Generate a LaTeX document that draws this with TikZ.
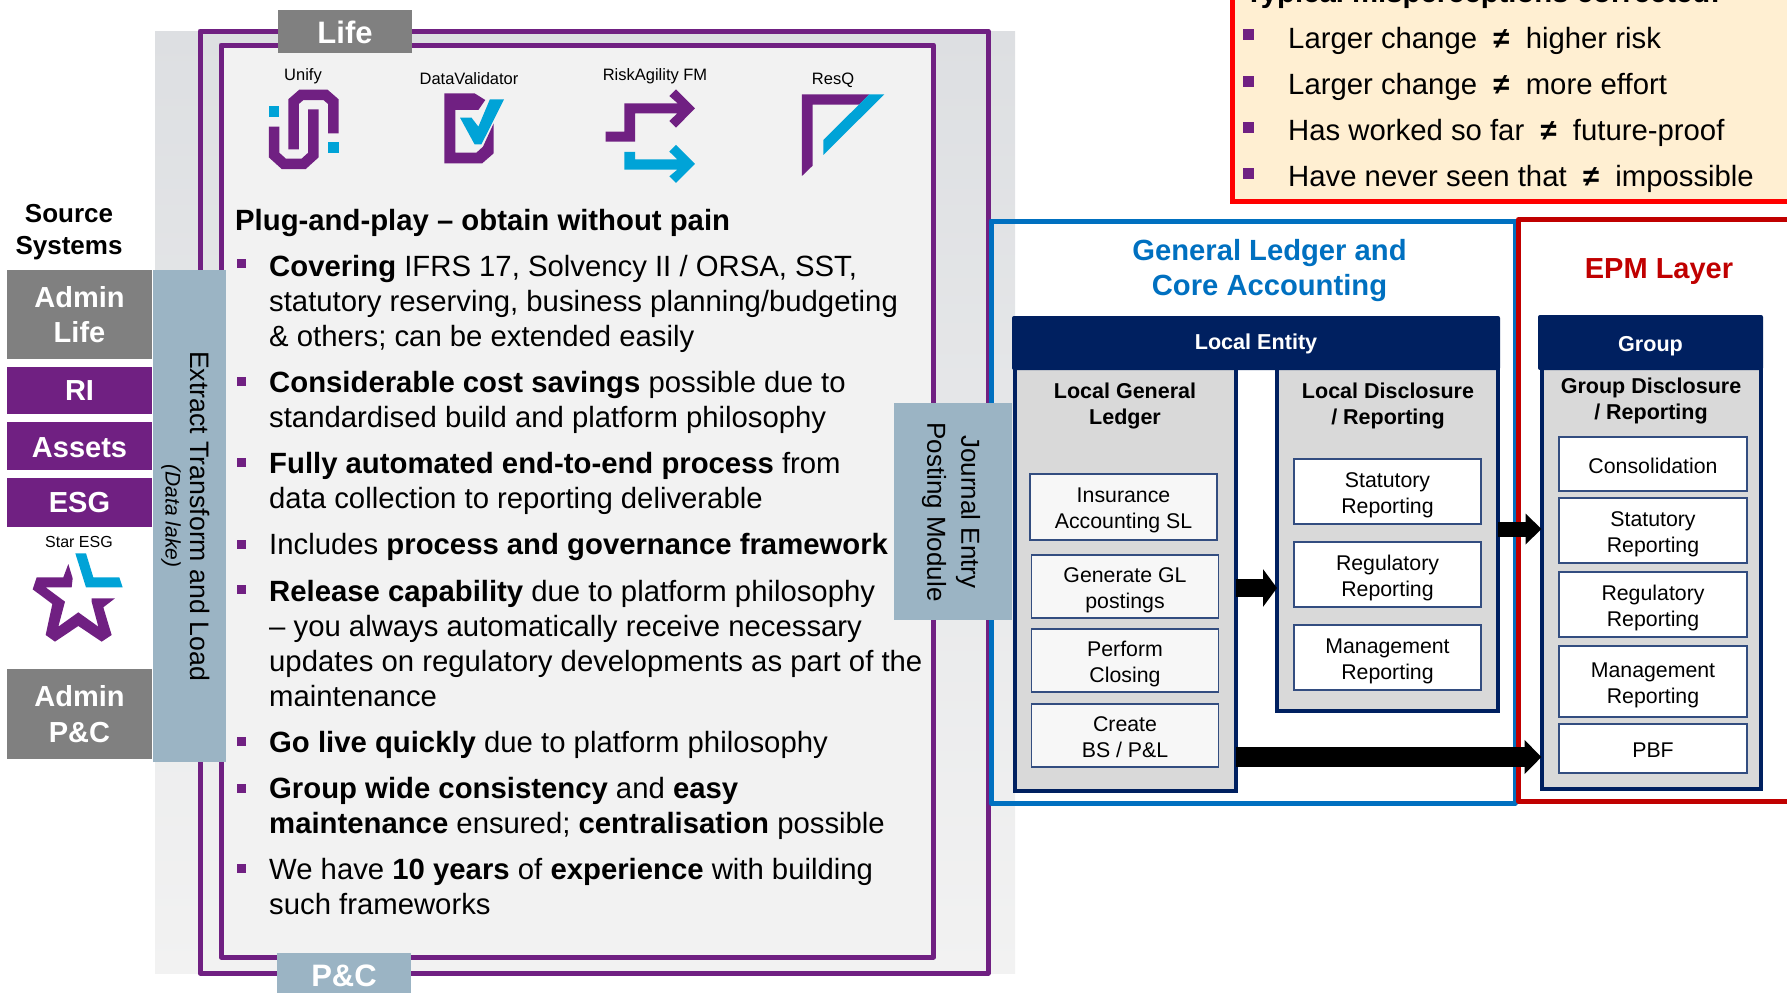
\documentclass[tikz,border=0pt]{standalone}
\usepackage{fontspec}
\setmainfont{Liberation Sans}
\usetikzlibrary{arrows.meta}
\definecolor{purpleLine}{HTML}{702082}
\definecolor{logoBlue}{HTML}{00A3D7}
\definecolor{steelBar}{HTML}{9BB4C4}
\definecolor{navyHead}{HTML}{002060}
\definecolor{ledgerBlue}{HTML}{0070C0}
\definecolor{epmRed}{HTML}{C00000}
\definecolor{noteFill}{HTML}{FFEFD2}
\newcommand{\topGap}[1]{\rule{0pt}{#1pt}}
\tikzstyle{sourceBox}=[shape = rectangle, inner sep = 0pt, outer sep = 0pt, minimum width = 145pt, align = center, text = white, font = \fontsize{29}{35.5}\selectfont\bfseries]
\tikzstyle{tabBox}=[shape = rectangle, inner sep = 0pt, outer sep = 0pt, minimum width = 134pt, text = white, font = \fontsize{31}{35}\selectfont\bfseries]
\tikzstyle{logoLabel}=[inner sep = 0pt, font = \fontsize{16.5}{20}\selectfont]
\tikzstyle{bodyText}=[anchor = west, inner sep = 0pt, align = left, font = \fontsize{29.3}{35}\selectfont]
\tikzstyle{bulletMark}=[shape = rectangle, fill = purpleLine, inner sep = 0pt, outer sep = 0pt, minimum size = 9pt]
\tikzstyle{noteMark}=[shape = rectangle, fill = purpleLine, inner sep = 0pt, outer sep = 0pt, minimum size = 11pt]
\tikzstyle{panelBox}=[shape = rectangle, draw = navyHead, fill = black!15, line width = 4pt, inner sep = 0pt, outer sep = 0pt]
\tikzstyle{headBox}=[shape = rectangle, fill = navyHead, rounded corners = 2pt, inner sep = 0pt, outer sep = 0pt, text = white, font = \fontsize{21.6}{26}\selectfont\bfseries]
\tikzstyle{panelTitle}=[inner sep = 0pt, align = center, font = \fontsize{21.5}{26}\selectfont\bfseries]
\tikzstyle{stepBox}=[shape = rectangle, draw = navyHead!80, fill = white, line width = 1.2pt, inner sep = 0pt, outer sep = 0pt, align = center, font = \fontsize{21.3}{26}\selectfont]
\tikzstyle{flowArrow}=[draw = black]
\begin{document}
\begin{tikzpicture}[x = 1pt, y = -1pt]
\useasboundingbox (0,0) rectangle (1787,993);
\shade[top color = {rgb,255:red,221;green,223;blue,226}, middle color = {rgb,255:red,224;green,225;blue,228}, bottom color = {rgb,255:red,242;green,242;blue,242}] (155,31) rectangle (1015,973);
\draw[purpleLine, line width = 5pt, line join = round] (200,31) rectangle (988,973);
\draw[purpleLine, line width = 5pt, line join = round, fill = black!5] (221,45) rectangle (933.5,957);
\node[tabBox, fill = black!50, minimum height = 43pt] (tabLife) at (345,31.5) {\topGap{25}Life};
\node[tabBox, fill = steelBar, minimum height = 40pt] (tabPC) at (344,973) {\topGap{27}P\&C};
\node[logoLabel] (labelUnify) at (303,76) {Unify};
\node[logoLabel] (labelData) at (469,79) {DataValidator};
\node[logoLabel] (labelRisk) at (655,76) {RiskAgility FM};
\node[logoLabel] (labelResQ) at (833,80) {ResQ};
\node[logoLabel, font = \fontsize{16}{20}\selectfont] (labelStar) at (79,542) {Star ESG};
\begin{scope}[x = 0.3827pt, y = -0.3333pt]
\draw[purpleLine, line width = 10.5pt] (716,380) -- (716,465) -- (742,492) -- (793,492) -- (819,465) -- (819,328);
\draw[purpleLine, line width = 10.5pt] (767,448) -- (767,305) -- (787,285) -- (851,285) -- (871,305) -- (871,400);
\fill[logoBlue] (702,319) rectangle (730,350);
\fill[logoBlue] (857,427) rectangle (885,458);
\fill[purpleLine] (1161,280) -- (1240,280) -- (1268,300) -- (1250,330) -- (1190,330) -- (1190,458) -- (1245,458) -- (1262,440) -- (1290,370) -- (1290,460) -- (1260,490) -- (1161,490) -- cycle;
\fill[logoBlue] (1202,353) -- (1232,353) -- (1250,380) -- (1280,298) -- (1317,298) -- (1258,433) -- (1240,433) -- cycle;
\end{scope}
\begin{scope}[shift = {(560,0)}, x = 0.3333pt, y = -0.3333pt]
\fill[purpleLine] (193,310) -- (353,310) -- (328,288) -- (348,268) -- (405,325) -- (348,383) -- (328,363) -- (352,340) -- (225,340) -- (225,425) -- (137,425) -- (137,395) -- (193,395) -- cycle;
\fill[logoBlue] (193,456) -- (225,456) -- (225,478) -- (352,478) -- (328,455) -- (348,435) -- (405,492) -- (348,549) -- (328,529) -- (352,509) -- (193,509) -- cycle;
\fill[purpleLine] (726,283) -- (928,283) -- (897,314) -- (758,314) -- (758,497) -- (726,528) -- cycle;
\fill[logoBlue] (928,283) -- (973,283) -- (790,465) -- (790,420) -- cycle;
\end{scope}
\begin{scope}[shift = {(0,500)}, x = 0.3333pt, y = -0.3333pt]
\fill[logoBlue] (226,160) -- (258,160) -- (280,232) -- (358,232) -- (368,262) -- (258,262) -- cycle;
\fill[purpleLine] (205,192) -- (190,232) -- (110,232) -- (98,268) -- (157,312) -- (137,405) -- (165,425) -- (235,378) -- (305,425) -- (335,405) -- (310,322) -- (345,295) -- (275,295) -- (275,305) -- (295,380) -- (235,337) -- (175,380) -- (195,305) -- (137,262) -- (215,262) -- (218,235) -- cycle;
\end{scope}
\node[inner sep = 0pt, align = center, font = \fontsize{26}{32}\selectfont\bfseries] (sourceTitle) at (69,232.5) {Source\\Systems};
\node[sourceBox, fill = black!50, minimum height = 89pt] (adminLife) at (79.5,314.5) {Admin\\Life};
\node[sourceBox, fill = purpleLine, minimum height = 47pt] (sourceRI) at (79.5,390.5) {RI};
\node[sourceBox, fill = purpleLine, minimum height = 48pt] (sourceAssets) at (79.5,446) {\topGap{23.5}Assets};
\node[sourceBox, fill = purpleLine, minimum height = 49pt] (sourceESG) at (79.5,502.5) {ESG};
\node[sourceBox, fill = black!50, minimum height = 90pt] (adminPC) at (79.5,714) {Admin\\P\&C};
\node[shape = rectangle, fill = steelBar, inner sep = 0pt, minimum width = 73pt, minimum height = 492pt] (barETL) at (189.5,516) {};
\node[inner sep = 0pt, rotate = -90, font = \fontsize{26.7}{30}\selectfont] (textETL) at (200,516) {Extract Transform and Load};
\node[inner sep = 0pt, rotate = -90, font = \fontsize{21}{25}\selectfont\itshape] (textLake) at (171,516) {(Data lake)};
\node[bodyText, font = \fontsize{29.3}{35}\selectfont\bfseries] (bodyHead) at (235,223) {Plug-and-play – obtain without pain};
\foreach \name/\y in {markA/263, markB/381, markC/462, markD/544, markE/589, markF/741, markG/788, markH/868}
  \node[bulletMark] (\name) at (241.5,\y) {};
\node[bodyText] (bodyA) at (269,304) {\textbf{Covering} IFRS 17, Solvency II / ORSA, SST,\\statutory reserving, business planning/budgeting\\\& others; can be extended easily};
\node[bodyText] (bodyB) at (269,402) {\textbf{Considerable cost savings} possible due to\\standardised build and platform philosophy};
\node[bodyText] (bodyC) at (269,483) {\textbf{Fully automated end-to-end process} from\\data collection to reporting deliverable};
\node[bodyText] (bodyD) at (269,547) {Includes \textbf{process and governance framework}};
\node[bodyText] (bodyE) at (269,643.5) {\textbf{Release capability} due to platform philosophy\\– you always automatically receive necessary\\updates on regulatory developments as part of the\\maintenance};
\node[bodyText] (bodyF) at (269,745) {\textbf{Go live quickly} due to platform philosophy};
\node[bodyText] (bodyG) at (269,808) {\textbf{Group wide consistency} and \textbf{easy}\\\textbf{maintenance} ensured; \textbf{centralisation} possible};
\node[bodyText] (bodyH) at (269,887) {We have \textbf{10 years} of \textbf{experience} with building\\such frameworks};
\node[shape = rectangle, draw = red, fill = noteFill, line width = 5pt, inner sep = 0pt, minimum width = 600pt, minimum height = 221pt] (noteBox) at (1532,90.5) {};
\node[bodyText, anchor = base west, font = \fontsize{29.3}{35}\selectfont\bfseries] (noteHead) at (1245,2) {Typical misperceptions corrected:};
\foreach \name/\y in {noteA/34, noteB/81, noteC/127, noteD/173}
  \node[noteMark] (\name) at (1248.5,\y) {};
\node[bodyText] (noteTextA) at (1288,41) {Larger change \ \textbf{≠} \ higher risk};
\node[bodyText] (noteTextB) at (1288,87) {Larger change \ \textbf{≠} \ more effort};
\node[bodyText] (noteTextC) at (1288,133) {Has worked so far \ \textbf{≠} \ future-proof};
\node[bodyText] (noteTextD) at (1288,179) {Have never seen that \ \textbf{≠} \ impossible};
\draw[ledgerBlue, line width = 5pt, line join = round] (991,221) rectangle (1515,803);
\draw[epmRed, line width = 5pt, line join = round] (1818,219.5) -- (1518.5,219.5) -- (1518.5,801.5) -- (1818,801.5);
\node[inner sep = 0pt, align = center, text = ledgerBlue, font = \fontsize{29.2}{34.5}\selectfont\bfseries] (titleLedger) at (1269.5,270.5) {General Ledger and\\Core Accounting};
\node[inner sep = 0pt, text = epmRed, font = \fontsize{29}{34}\selectfont\bfseries] (titleEPM) at (1659,271.5) {EPM Layer};
\node[shape = rectangle, fill = steelBar, inner sep = 0pt, minimum width = 118pt, minimum height = 217pt] (barJournal) at (953,511.5) {};
\node[inner sep = 0pt, rotate = -90, align = center, font = \fontsize{26}{34}\selectfont] (textJournal) at (951,512) {Journal Entry\\Posting Module};
\node[panelBox, minimum width = 221.3pt, minimum height = 425pt] (panelGeneral) at (1125.4,578.5) {};
\node[panelBox, minimum width = 221pt, minimum height = 345pt] (panelLocal) at (1387.5,538.5) {};
\node[panelBox, minimum width = 219.5pt, minimum height = 423pt] (panelGroup) at (1651.25,577.5) {};
\node[headBox, minimum width = 488pt, minimum height = 54pt] (headLocal) at (1256,343) {\topGap{18}Local Entity};
\node[headBox, minimum width = 225pt, minimum height = 55pt] (headGroup) at (1650.5,342.5) {\topGap{22.6}Group};
\node[panelTitle] (titleGeneral) at (1125,406) {Local General\\Ledger};
\node[panelTitle] (titleLocal) at (1388,406) {Local Disclosure\\/ Reporting};
\node[panelTitle] (titleGroup) at (1651,400.5) {Group Disclosure\\/ Reporting};
\node[stepBox, fill = black!3, minimum width = 187pt, minimum height = 66pt] (stepInsurance) at (1123.5,507) {\topGap{22}Insurance\\Accounting SL};
\node[stepBox, fill = black!3, minimum width = 187pt, minimum height = 63pt] (stepPostings) at (1125,586.5) {\topGap{22}Generate GL\\postings};
\node[stepBox, fill = black!3, minimum width = 187pt, minimum height = 63pt] (stepClosing) at (1125,660.5) {\topGap{22}Perform\\Closing};
\node[stepBox, fill = black!3, minimum width = 187pt, minimum height = 63pt] (stepBS) at (1125,735.5) {\topGap{19}Create\\BS / P\&L};
\node[stepBox, minimum width = 187pt, minimum height = 65pt] (localStat) at (1387.5,491.5) {\topGap{22}Statutory\\Reporting};
\node[stepBox, minimum width = 187pt, minimum height = 65pt] (localReg) at (1387.5,574.5) {\topGap{22}Regulatory\\Reporting};
\node[stepBox, minimum width = 187pt, minimum height = 65pt] (localMgmt) at (1387.5,657.5) {\topGap{22}Management\\Reporting};
\node[stepBox, minimum width = 188pt, minimum height = 54pt] (groupCons) at (1653,464) {\topGap{20}Consolidation};
\node[stepBox, minimum width = 188pt, minimum height = 65pt] (groupStat) at (1653,530.5) {\topGap{22}Statutory\\Reporting};
\node[stepBox, minimum width = 188pt, minimum height = 65pt] (groupReg) at (1653,604.5) {\topGap{22}Regulatory\\Reporting};
\node[stepBox, minimum width = 188pt, minimum height = 71pt] (groupMgmt) at (1653,681.5) {\topGap{22}Management\\Reporting};
\node[stepBox, minimum width = 188pt, minimum height = 49pt] (groupPBF) at (1653,748.5) {\topGap{18}PBF};
\coordinate (levelA) at (0,588);
\coordinate (levelB) at (0,529);
\coordinate (levelC) at (0,757);
\draw[flowArrow, line width = 18.6pt, -{Triangle[length = 14pt, width = 37pt]}] (panelGeneral.east |- levelA) -- (panelLocal.west |- levelA);
\draw[flowArrow, line width = 15pt, -{Triangle[length = 16pt, width = 30pt]}] (panelLocal.east |- levelB) -- (panelGroup.west |- levelB);
\draw[flowArrow, line width = 20pt, -{Triangle[length = 17pt, width = 33pt]}] (panelGeneral.east |- levelC) -- (panelGroup.west |- levelC);
\end{tikzpicture}
\end{document}
